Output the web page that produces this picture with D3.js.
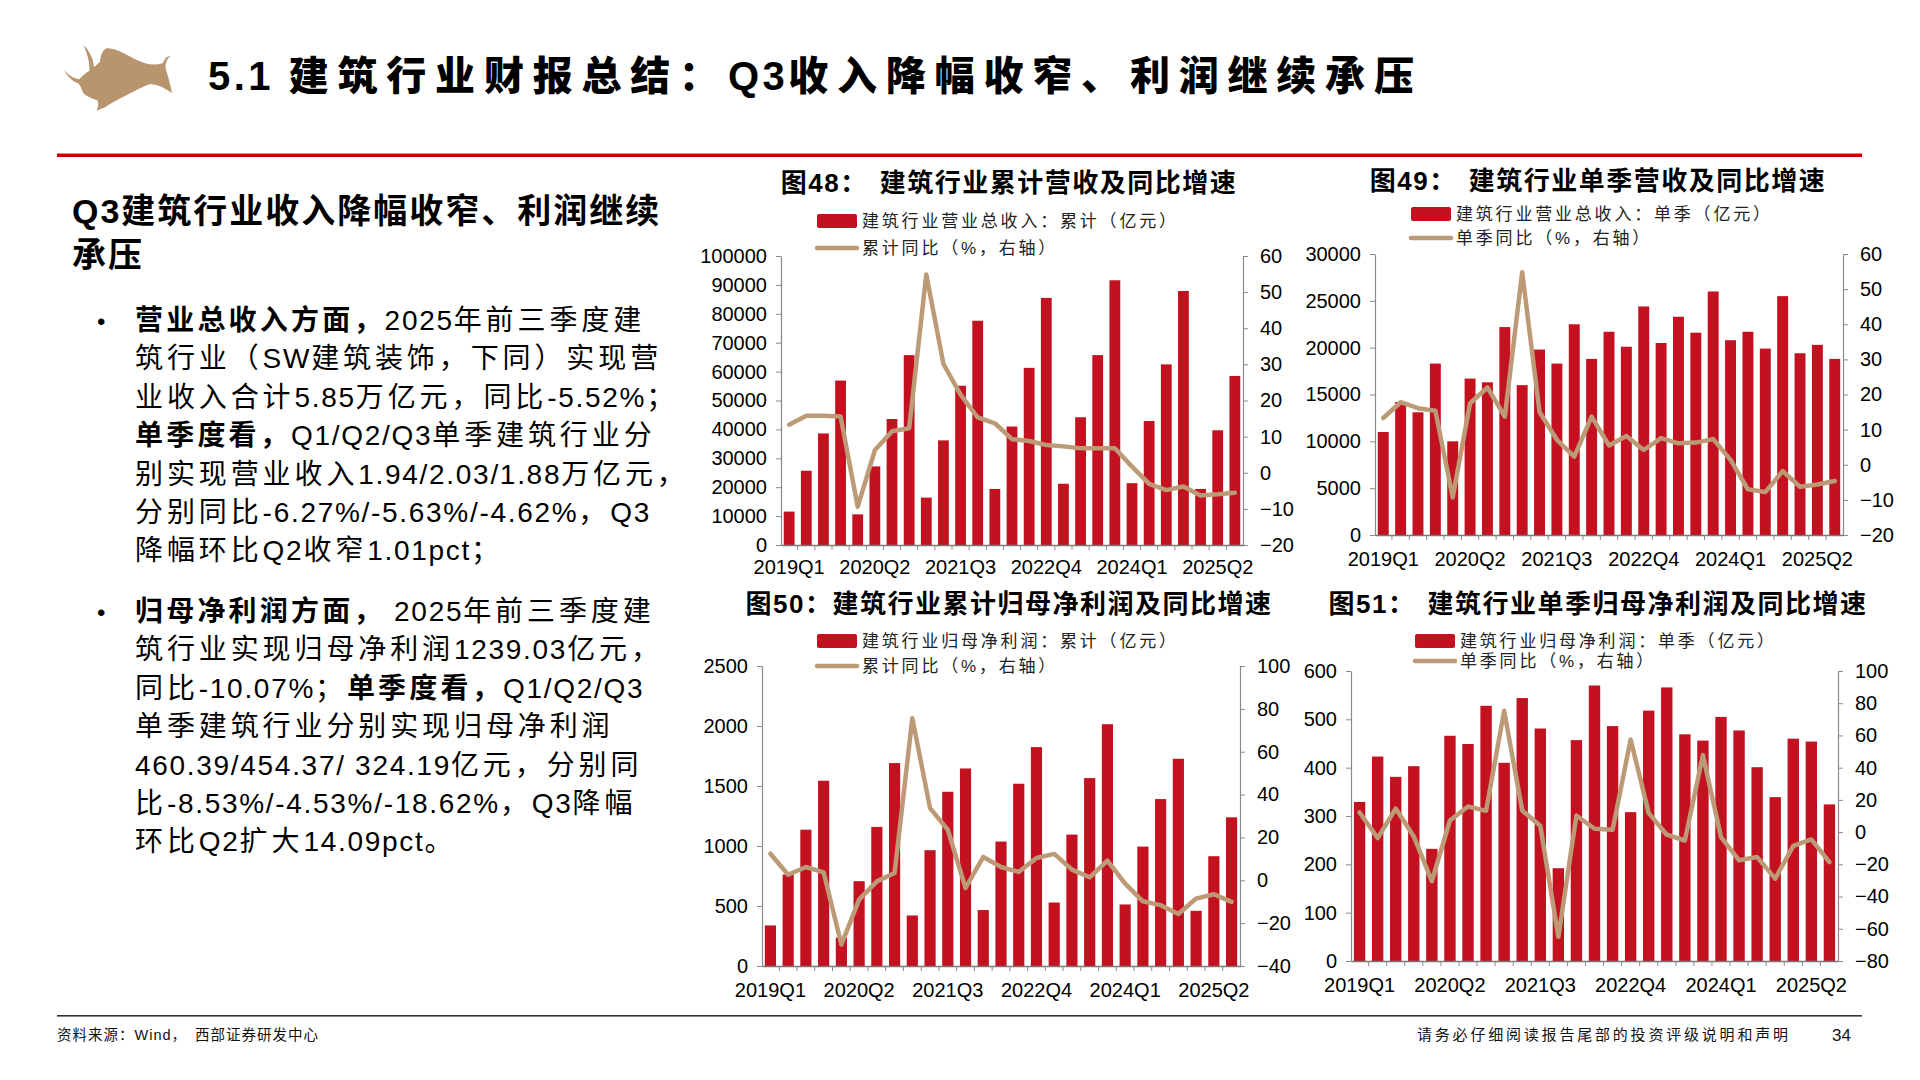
<!DOCTYPE html>
<html><head><meta charset="utf-8">
<script src="https://cdn.jsdelivr.net/npm/d3@7"></script>
<style>
html,body{margin:0;padding:0;background:#fff;}
svg{display:block;}
text{font-family:"Liberation Sans","Noto Sans CJK SC",sans-serif;}
</style></head>
<body>
<svg id="c" width="1920" height="1080"></svg>
<script>
// ---------- data ----------
const quarters = ["2019Q1","2019Q2","2019Q3","2019Q4","2020Q1","2020Q2","2020Q3","2020Q4",
  "2021Q1","2021Q2","2021Q3","2021Q4","2022Q1","2022Q2","2022Q3","2022Q4",
  "2023Q1","2023Q2","2023Q3","2023Q4","2024Q1","2024Q2","2024Q3","2024Q4",
  "2025Q1","2025Q2","2025Q3"];
const xTickLabels = ["2019Q1","2020Q2","2021Q3","2022Q4","2024Q1","2025Q2"];

// Fig48 cumulative revenue (亿元) & yoy (%)
const revCum = [11560,25700,38600,56900,10600,27200,43600,65700,16400,36200,55100,77600,
  19400,41000,61300,85500,21200,44200,65700,91600,21400,42900,62500,87900,19400,39700,58500];
const revCumYoy = [13.3,15.8,15.8,15.6,-9.4,6.2,11.5,12.3,54.9,30.1,21.6,15.3,
  13.7,9.3,8.8,7.7,7.3,6.8,6.8,6.8,1.7,-3.1,-4.8,-3.8,-6.27,-5.95,-5.52];
// Fig49 single-quarter revenue
const revQ = [11000,14200,13100,18300,10000,16700,16300,22200,16000,19800,18300,22500,
  18800,21700,20100,24400,20500,23300,21600,26000,20800,21700,19900,25500,19400,20300,18800];
const revQYoy = [13.3,17.8,16.1,15.4,-9.3,17.5,22.0,13.7,54.8,15.0,7.1,2.3,
  13.7,5.5,8.2,4.2,7.6,6.1,6.3,7.3,1.4,-7.0,-7.8,-1.8,-6.27,-5.63,-4.62];
// Fig50 cumulative net profit
const npCum = [338,762,1136,1544,236,707,1159,1691,421,965,1452,1646,
  466,1037,1519,1824,529,1095,1566,2015,513,995,1391,1727,460,915,1239];
const npCumYoy = [12.4,2.6,6.2,3.7,-30,-9,-0.5,3.4,75.6,33.7,23.6,-3.6,
  10.9,6.2,3.9,10.4,12.3,5.0,1.4,9.2,-1.6,-9.8,-11.6,-15.7,-8.53,-6.5,-10.07];
// Fig51 single-quarter net profit
const npQ = [329,423,381,403,232,466,449,528,410,544,481,192,
  457,570,486,308,518,566,469,456,505,477,401,339,460,454,324];
const npQYoy = [12.2,-3.7,14.6,-2.7,-30.5,7.2,15.9,13.2,75.3,13.4,3.9,-65,
  10.3,2.1,1.4,57.5,11.8,-1.6,-5.2,47.8,-3.1,-17.5,-15.5,-28.9,-8.53,-4.53,-18.62];

const leftTicks48 = [0,10000,20000,30000,40000,50000,60000,70000,80000,90000,100000];
const rightTicks48 = [-20,-10,0,10,20,30,40,50,60];
const leftTicks49 = [0,5000,10000,15000,20000,25000,30000];
const rightTicks49 = [-20,-10,0,10,20,30,40,50,60];
const leftTicks50 = [0,500,1000,1500,2000,2500];
const rightTicks50 = [-40,-20,0,20,40,60,80,100];
const leftTicks51 = [0,100,200,300,400,500,600];
const rightTicks51 = [-80,-60,-40,-20,0,20,40,60,80,100];

const RED = "#C3111F", TAN = "#BD9A76", AXIS = "#8A8A8A";
const svg = d3.select("#c");

// split a string into CJK / non-CJK runs, each with its own letter-spacing
const CJK = /[\u3000-\u9fff\uff00-\uffef]/;
function runs(str){
  const out=[]; let cur="", curC=null;
  for(const ch of str){
    const c = CJK.test(ch);
    if(curC===null||c===curC){cur+=ch;curC=c;}
    else{out.push([cur,curC]);cur=ch;curC=c;}
  }
  if(cur) out.push([cur,curC]);
  return out;
}
function addRuns(textSel, str, lsC, lsL, weight){
  runs(str).forEach(r=>{
    textSel.append("tspan").attr("letter-spacing", r[1]?lsC:lsL)
      .attr("font-weight",weight).text(r[0]);
  });
}

// ---------- header ----------
svg.append("path")
  .attr("d","M100,45 C118,62 130,85 132,112 L150,95 C152,75 158,60 170,55 C200,55 230,75 260,90 C285,102 310,108 338,100 C342,92 345,85 352,80 L362,78 C352,85 348,95 346,110 C352,135 362,160 366,190 C350,178 330,165 300,162 C275,170 250,185 225,198 C205,208 185,218 165,232 L140,242 C145,228 148,218 140,210 C125,205 110,200 100,190 C95,178 92,168 85,160 C72,156 55,145 42,120 C55,135 70,145 88,148 C95,140 105,130 118,122 C120,100 112,70 100,45 Z")
  .attr("transform","translate(50,30) scale(0.3333)")
  .attr("fill","#B8956F");
const ttl = svg.append("text").attr("x",208).attr("y",90)
  .attr("font-size",40).attr("fill","#000");
addRuns(ttl,"5.1 建筑行业财报总结：Q3收入降幅收窄、利润继续承压",8.8,3.5,900);
svg.append("rect").attr("x",57).attr("y",153.5).attr("width",1805).attr("height",3.5).attr("fill","#C00000");

// ---------- left text ----------
const head = svg.append("g").attr("font-size",34).attr("font-weight",700).attr("letter-spacing",2);
head.append("text").attr("x",72).attr("y",223).text("Q3建筑行业收入降幅收窄、利润继续");
head.append("text").attr("x",72).attr("y",267).text("承压");

const bullets = [
  {y0:320, lines:[
    [["营业总收入方面，",1],["2025年前三季度建",0]],
    [["筑行业（SW建筑装饰，下同）实现营",0]],
    [["业收入合计5.85万亿元，同比-5.52%；",0]],
    [["单季度看，",1],["Q1/Q2/Q3单季建筑行业分",0]],
    [["别实现营业收入1.94/2.03/1.88万亿元，",0]],
    [["分别同比-6.27%/-5.63%/-4.62%，Q3",0]],
    [["降幅环比Q2收窄1.01pct；",0]]]},
  {y0:611, lines:[
    [["归母净利润方面，",1],[" 2025年前三季度建",0]],
    [["筑行业实现归母净利润1239.03亿元，",0]],
    [["同比-10.07%；",0],["单季度看，",1],["Q1/Q2/Q3",0]],
    [["单季建筑行业分别实现归母净利润",0]],
    [["460.39/454.37/ 324.19亿元，分别同",0]],
    [["比-8.53%/-4.53%/-18.62%，Q3降幅",0]],
    [["环比Q2扩大14.09pct。",0]]]}
];
const body = svg.append("g").attr("font-size",28).attr("fill","#000");
bullets.forEach(b=>{
  body.append("text").attr("x",97).attr("y",b.y0+10).attr("font-size",24).text("•");
  b.lines.forEach((ln,i)=>{
    const t = body.append("text").attr("x",135).attr("y",b.y0+10+i*38.4);
    ln.forEach(seg=>addRuns(t, seg[0], seg[1]?3.2:3.9, 1.7, seg[1]?700:400));
  });
});

// ---------- footer ----------
svg.append("rect").attr("x",57).attr("y",1015).attr("width",1805).attr("height",1.6).attr("fill","#333");
const fl = svg.append("text").attr("x",57).attr("y",1040).attr("font-size",14.5).attr("fill","#111").attr("letter-spacing",1);
fl.append("tspan").text("资料来源：Wind，");
fl.append("tspan").attr("dx",8).text("西部证券研发中心");
svg.append("text").attr("x",1417).attr("y",1040).attr("font-size",15).attr("fill","#111").attr("letter-spacing",2.8)
  .text("请务必仔细阅读报告尾部的投资评级说明和声明");
svg.append("text").attr("x",1832).attr("y",1041).attr("font-size",17).attr("fill","#111").text("34");

// ---------- charts ----------
function drawChart(cfg){
  const g = svg.append("g");
  const x = d3.scaleBand().domain(quarters).range([cfg.x0,cfg.x1]).paddingInner(0.37).paddingOuter(0.16);
  const yl = d3.scaleLinear().domain(cfg.lDomain).range([cfg.y1,cfg.y0]);
  const yr = d3.scaleLinear().domain(cfg.rDomain).range([cfg.y1,cfg.y0]);

  // title
  const tt = g.append("text").attr("x",cfg.tx).attr("y",cfg.ty).attr("text-anchor","middle")
    .attr("font-size",26).attr("font-weight",700).attr("letter-spacing",1.5).attr("fill","#000");
  tt.append("tspan").text(cfg.titleA);
  tt.append("tspan").attr("dx",cfg.gap).text(cfg.titleB);

  // legend
  g.append("rect").attr("x",cfg.lgx).attr("y",cfg.lgy1-7).attr("width",40).attr("height",14).attr("rx",2).attr("fill",RED);
  g.append("text").attr("x",cfg.lgx+45).attr("y",cfg.lgy1+6).attr("font-size",17).attr("letter-spacing",2.8).attr("fill","#222").text(cfg.leg1);
  g.append("line").attr("x1",cfg.lgx).attr("x2",cfg.lgx+40).attr("y1",cfg.lgy2).attr("y2",cfg.lgy2)
    .attr("stroke",TAN).attr("stroke-width",4.5).attr("stroke-linecap","round");
  g.append("text").attr("x",cfg.lgx+45).attr("y",cfg.lgy2+6).attr("font-size",17).attr("letter-spacing",2.8).attr("fill","#222").text(cfg.leg2);

  // bars
  g.append("g").selectAll("rect").data(quarters).join("rect")
    .attr("x",q=>x(q)).attr("width",x.bandwidth())
    .attr("y",(q,i)=>yl(cfg.bars[i])).attr("height",(q,i)=>yl(0)-yl(cfg.bars[i]))
    .attr("fill",RED);

  // axes
  const axL = g.append("g").attr("transform",`translate(${cfg.x0},0)`)
    .call(d3.axisLeft(yl).tickValues(cfg.lTicks).tickSize(5).tickSizeOuter(0).tickPadding(9).tickFormat(d3.format("d")));
  const axR = g.append("g").attr("transform",`translate(${cfg.x1},0)`)
    .call(d3.axisRight(yr).tickValues(cfg.rTicks).tickSize(5).tickSizeOuter(0).tickPadding(12).tickFormat(d3.format("d")));
  const axB = g.append("g").attr("transform",`translate(0,${cfg.y1})`)
    .call(d3.axisBottom(x).tickValues(xTickLabels).tickSize(0).tickSizeOuter(0).tickPadding(cfg.xPad));
  [axL,axR,axB].forEach(a=>{
    a.selectAll("path.domain").attr("stroke",AXIS).attr("stroke-width",1.2);
    a.selectAll("line").attr("stroke",AXIS);
    a.selectAll("text").attr("font-size",20).attr("fill","#000")
      .attr("font-family","'Liberation Sans',Arial,sans-serif");
  });
  axB.selectAll("path.domain").attr("stroke","#777").attr("stroke-width",1.5);
  // category boundary ticks
  g.append("g").selectAll("line").data(quarters.slice(1)).join("line")
    .attr("x1",q=>x(q)-x.step()*x.paddingInner()/2).attr("x2",q=>x(q)-x.step()*x.paddingInner()/2)
    .attr("y1",cfg.y1).attr("y2",cfg.y1+5).attr("stroke",AXIS);

  // line
  const line = d3.line().x((d,i)=>x(quarters[i])+x.bandwidth()/2).y(d=>yr(d)).curve(d3.curveLinear);
  g.append("path").datum(cfg.line).attr("d",line).attr("fill","none")
    .attr("stroke",TAN).attr("stroke-width",4.5).attr("stroke-linejoin","round").attr("stroke-linecap","round");
}

drawChart({x0:781,x1:1243,y0:256,y1:545,lDomain:[0,100000],rDomain:[-20,60],
  lTicks:leftTicks48,rTicks:rightTicks48,bars:revCum,line:revCumYoy,xPad:15,
  tx:1009,ty:192,titleA:"图48：",gap:12,titleB:"建筑行业累计营收及同比增速",
  lgx:817,lgy1:221,lgy2:248,leg1:"建筑行业营业总收入：累计（亿元）",leg2:"累计同比（%，右轴）"});
drawChart({x0:1375,x1:1843,y0:254,y1:535,lDomain:[0,30000],rDomain:[-20,60],
  lTicks:leftTicks49,rTicks:rightTicks49,bars:revQ,line:revQYoy,xPad:17,
  tx:1598,ty:190,titleA:"图49：",gap:12,titleB:"建筑行业单季营收及同比增速",
  lgx:1411,lgy1:214,lgy2:238,leg1:"建筑行业营业总收入：单季（亿元）",leg2:"单季同比（%，右轴）"});
drawChart({x0:762,x1:1240,y0:666,y1:966,lDomain:[0,2500],rDomain:[-40,100],
  lTicks:leftTicks50,rTicks:rightTicks50,bars:npCum,line:npCumYoy,xPad:17,
  tx:1009,ty:613,titleA:"图50：",gap:0,titleB:"建筑行业累计归母净利润及同比增速",
  lgx:817,lgy1:641,lgy2:666,leg1:"建筑行业归母净利润：累计（亿元）",leg2:"累计同比（%，右轴）"});
drawChart({x0:1351,x1:1838,y0:671,y1:961,lDomain:[0,600],rDomain:[-80,100],
  lTicks:leftTicks51,rTicks:rightTicks51,bars:npQ,line:npQYoy,xPad:17,
  tx:1598,ty:613,titleA:"图51：",gap:12,titleB:"建筑行业单季归母净利润及同比增速",
  lgx:1415,lgy1:641,lgy2:661,leg1:"建筑行业归母净利润：单季（亿元）",leg2:"单季同比（%，右轴）"});
</script>
</body></html>
